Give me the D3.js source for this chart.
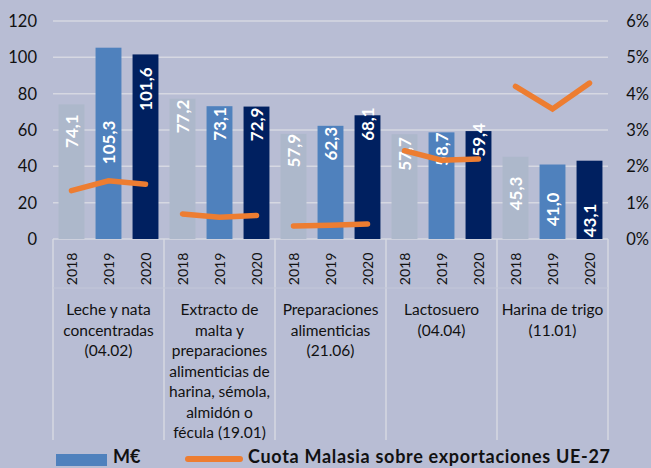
<!DOCTYPE html>
<html>
<head>
<meta charset="utf-8">
<script src="https://cdn.jsdelivr.net/npm/d3@7"></script>
<style>
  html, body { margin: 0; padding: 0; background: #B8BDD4; }
  svg { display: block; }
  text { font-family: Lato, "Open Sans", sans-serif; fill: #111; }
</style>
</head>
<body>
<svg id="chart" width="651" height="468"></svg>
<script>
// ---- data ----
const categories = [
  ["Leche y nata", "concentradas", "(04.02)"],
  ["Extracto de", "malta y", "preparaciones", "alimenticias de", "harina, sémola,", "almidón o", "fécula (19.01)"],
  ["Preparaciones", "alimenticias", "(21.06)"],
  ["Lactosuero", "(04.04)"],
  ["Harina de trigo", "(11.01)"]
];
const years = ["2018", "2019", "2020"];
const values2018 = [74.1, 77.2, 57.9, 57.7, 45.3];
const values2019 = [105.3, 73.1, 62.3, 58.7, 41.0];
const values2020 = [101.6, 72.9, 68.1, 59.4, 43.1];
const share2018 = [1.33, 0.69, 0.36, 2.43, 4.20];
const share2019 = [1.60, 0.60, 0.38, 2.17, 3.58];
const share2020 = [1.51, 0.65, 0.41, 2.20, 4.29];
const leftTicks = [0, 20, 40, 60, 80, 100, 120];
const rightTicks = [0, 1, 2, 3, 4, 5, 6];
const legendLabels = ["M€", "Cuota Malasia sobre exportaciones UE-27"];

// label placement (px below bar top), layout only
const labelShift = [[10, 73, 13], [1, 1, 1], [0, 1, -8], [3, 0, -8], [20, 28, 43]];

const barValues = [values2018, values2019, values2020];
const shareValues = [share2018, share2019, share2020];
const barColors = ["#ADB8CB", "#4F81BD", "#002060"];
const lineColor = "#ED7D31";
const gridColor = "#D6D8E2";

const svg = d3.select("#chart");
const mLeft = 53, mRight = 608, mTop = 21, mBottom = 239;

const y = d3.scaleLinear().domain([0, 120]).range([mBottom, mTop]);
const y2 = d3.scaleLinear().domain([0, 6]).range([mBottom, mTop]);
const xGroup = d3.scaleBand().domain(d3.range(categories.length)).range([mLeft, mRight]).padding(0);
const xYear = d3.scaleBand().domain(years).range([0, xGroup.bandwidth()]).paddingInner(0.3).paddingOuter(0.15);

// gridlines
svg.append("g").selectAll("line").data(leftTicks).join("line")
  .attr("x1", mLeft).attr("x2", mRight)
  .attr("y1", d => y(d)).attr("y2", d => y(d))
  .attr("stroke", gridColor).attr("stroke-width", 1.5);

// left axis labels
svg.append("g").selectAll("text").data(leftTicks).join("text")
  .attr("x", 37).attr("y", d => y(d)).attr("text-anchor", "end")
  .attr("dominant-baseline", "central").style("font-size", "16.5px")
  .text(d => d);

// right axis labels
svg.append("g").selectAll("text").data(rightTicks).join("text")
  .attr("x", 649).attr("y", d => y2(d)).attr("text-anchor", "end")
  .attr("dominant-baseline", "central").style("font-size", "16.5px")
  .text(d => d + "%");

// category separators
const seps = d3.range(categories.length + 1).map(i => i < categories.length ? xGroup(i) : mRight);
svg.append("g").selectAll("line").data(seps).join("line")
  .attr("x1", d => d).attr("x2", d => d).attr("y1", mBottom).attr("y2", 440)
  .attr("stroke", gridColor).attr("stroke-width", 1.5);
svg.append("line").attr("x1", mLeft).attr("x2", mRight).attr("y1", 288).attr("y2", 288)
  .attr("stroke", "#C3C7D9").attr("stroke-width", 1);

const fmt = v => d3.format(".1f")(v).replace(".", ",");

// bars
const groups = svg.append("g").selectAll("g").data(categories).join("g")
  .attr("transform", (d, i) => `translate(${xGroup(i)},0)`);

groups.each(function(cat, gi) {
  const g = d3.select(this);
  years.forEach((yr, yi) => {
    const v = barValues[yi][gi];
    g.append("rect")
      .attr("x", xYear(yr)).attr("width", xYear.bandwidth())
      .attr("y", y(v)).attr("height", y(0) - y(v))
      .attr("fill", barColors[yi]);
  });
  years.forEach(yr => {
    const cx = xYear(yr) + xYear.bandwidth() / 2;
    g.append("text")
      .attr("transform", `translate(${cx},269) rotate(-90)`)
      .attr("text-anchor", "middle").attr("dominant-baseline", "central")
      .style("font-size", "14px").text(yr);
  });
  const t = g.append("text").attr("text-anchor", "middle").style("font-size", "15.5px");
  cat.forEach((line, li) => {
    t.append("tspan").attr("x", xGroup.bandwidth() / 2).attr("y", 315 + li * 20.5).text(line);
  });
});

// value labels
groups.each(function(cat, gi) {
  const g = d3.select(this);
  years.forEach((yr, yi) => {
    const v = barValues[yi][gi];
    const cx = xYear(yr) + xYear.bandwidth() / 2;
    g.append("text")
      .attr("transform", `translate(${cx},${y(v) + labelShift[gi][yi]}) rotate(-90)`)
      .attr("text-anchor", "end").attr("dominant-baseline", "central")
      .style("font-size", "17px").style("font-weight", "bold").style("fill", "#fff")
      .text(fmt(v));
  });
});

// share lines
const lineGen = d3.line().x(d => d[0]).y(d => y2(d[1]));
groups.each(function(cat, gi) {
  const pts = years.map((yr, yi) => [xYear(yr) + xYear.bandwidth() / 2, shareValues[yi][gi]]);
  d3.select(this).append("path").attr("d", lineGen(pts))
    .attr("fill", "none").attr("stroke", lineColor).attr("stroke-width", 5.5)
    .attr("stroke-linecap", "round").attr("stroke-linejoin", "miter");
});

// legend
const lg = svg.append("g");
lg.append("rect").attr("x", 56).attr("y", 454).attr("width", 51).attr("height", 12).attr("fill", "#4F81BD");
lg.append("text").attr("x", 113).attr("y", 463).style("font-size", "18px").style("font-weight", "bold").text(legendLabels[0]);
lg.append("line").attr("x1", 188).attr("x2", 240).attr("y1", 459).attr("y2", 459)
  .attr("stroke", lineColor).attr("stroke-width", 6).attr("stroke-linecap", "round");
lg.append("text").attr("x", 248).attr("y", 463).style("font-size", "18px").style("font-weight", "bold")
  .attr("textLength", 362).attr("lengthAdjust", "spacing").text(legendLabels[1]);
</script>
</body>
</html>
